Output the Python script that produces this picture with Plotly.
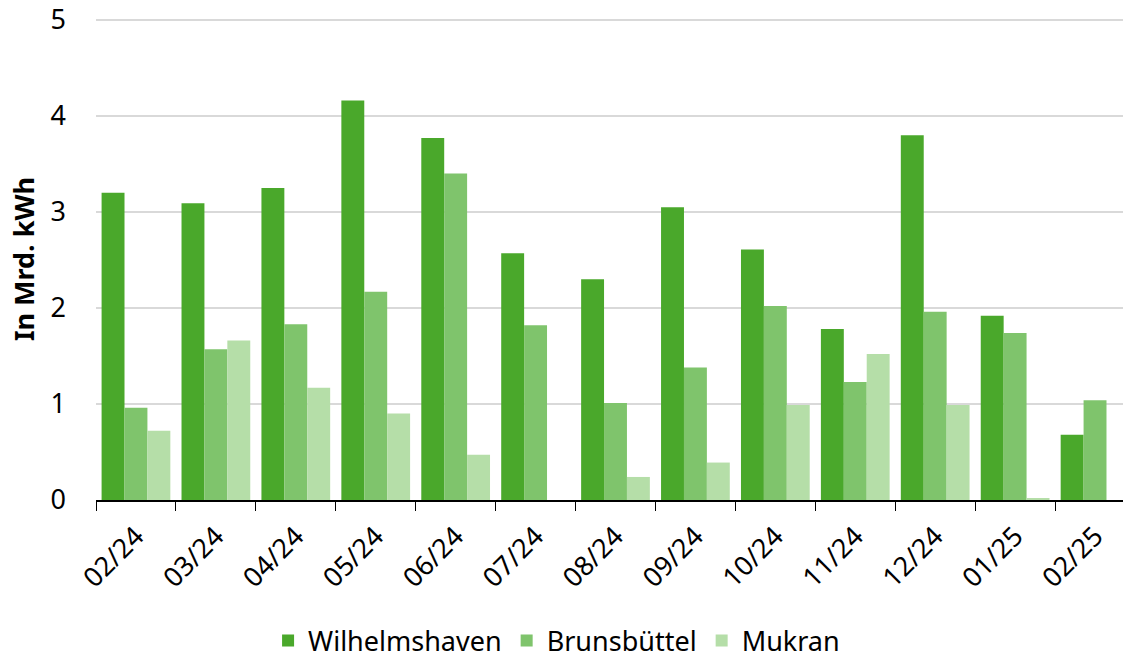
import plotly.graph_objects as go

months = ['02/24', '03/24', '04/24', '05/24', '06/24', '07/24', '08/24',
          '09/24', '10/24', '11/24', '12/24', '01/25', '02/25']
wilhelmshaven = [3.20, 3.09, 3.25, 4.16, 3.77, 2.57, 2.30, 3.05, 2.61, 1.78, 3.80, 1.92, 0.68]
brunsbuettel = [0.96, 1.57, 1.83, 2.17, 3.40, 1.82, 1.01, 1.38, 2.02, 1.23, 1.96, 1.74, 1.04]
mukran = [0.72, 1.66, 1.17, 0.90, 0.47, 0.0, 0.24, 0.39, 0.99, 1.52, 0.99, 0.02, 0.0]

font = 'Noto Sans'

fig = go.Figure()
fig.add_trace(go.Bar(x=months, y=wilhelmshaven, name='Wilhelmshaven',
                     marker={'color': '#4aa82b', 'line': {'width': 0}}))
fig.add_trace(go.Bar(x=months, y=brunsbuettel, name='Brunsbüttel',
                     marker={'color': '#7fc46c', 'line': {'width': 0}}))
fig.add_trace(go.Bar(x=months, y=mukran, name='Mukran',
                     marker={'color': '#b5dea8', 'line': {'width': 0}}))

# page has an 8px body margin, so the figure is a bit smaller than the window
fig.update_layout(
    width=1123, height=651,
    margin={'l': 88, 'r': 0, 't': 10, 'b': 159, 'autoexpand': False},
    paper_bgcolor='white', plot_bgcolor='white',
    barmode='group', bargap=0.14, bargroupgap=0,
    font={'family': font, 'size': 27, 'color': 'black'},
    legend={'orientation': 'h', 'x': 0.445, 'xanchor': 'center',
            'y': -0.2925, 'yanchor': 'middle', 'font': {'size': 27},
            'itemwidth': 30},
    annotations=[{'text': '<b>In Mrd. kWh</b>', 'textangle': -90,
                  'xref': 'paper', 'yref': 'paper', 'x': -0.0705, 'y': 0.5,
                  'xanchor': 'center', 'yanchor': 'middle',
                  'showarrow': False, 'font': {'size': 27}}],
)
fig.update_xaxes(type='category', range=[-0.5, 12.45], tickangle=-45,
                 tickson='boundaries', ticks='outside', ticklen=9,
                 tickcolor='black', showline=True, linecolor='black',
                 linewidth=1.5, showgrid=False, automargin=False,
                 ticklabelstandoff=8)
fig.update_yaxes(range=[0, 5.02], dtick=1, showgrid=True, gridcolor='#d9d9d9',
                 gridwidth=1.5, zeroline=False, showline=False, ticks='',
                 ticklabelstandoff=29, automargin=False,
                 ticklabeloverflow='allow')

fig.write_html('out.html')
